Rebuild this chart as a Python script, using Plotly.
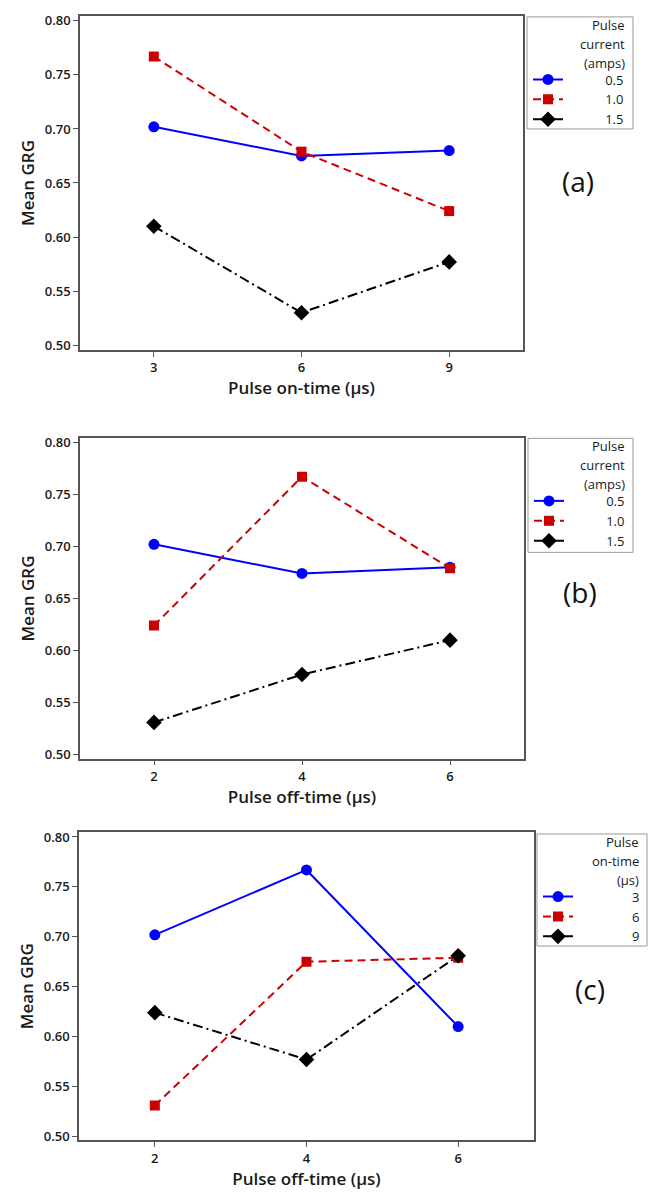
import plotly.graph_objects as go

# ---------------- data ----------------
on_time = [3, 6, 9]
off_time = [2, 4, 6]

current_levels = ["0.5", "1.0", "1.5"]
ontime_levels = ["3", "6", "9"]

# (a) Mean GRG vs pulse on-time, by pulse current
a_05 = [0.702, 0.675, 0.680]
a_10 = [0.767, 0.679, 0.624]
a_15 = [0.610, 0.530, 0.577]

# (b) Mean GRG vs pulse off-time, by pulse current
b_05 = [0.702, 0.674, 0.680]
b_10 = [0.624, 0.767, 0.679]
b_15 = [0.531, 0.577, 0.610]

# (c) Mean GRG vs pulse off-time, by pulse on-time
c_3 = [0.702, 0.767, 0.610]
c_6 = [0.531, 0.675, 0.679]
c_9 = [0.624, 0.577, 0.681]

y_ticks = [0.50, 0.55, 0.60, 0.65, 0.70, 0.75, 0.80]

W, H = 648, 1192
FONT = "Open Sans"
TXT = "#1a1a1a"

styles = [
    dict(color="#0000FF", dash="solid", symbol="circle", size=11),
    dict(color="#CC0000", dash="8px,5px", symbol="square", size=10),
    dict(color="#000000", dash="10px,4px,2px,4px", symbol="diamond", size=12),
]

NB = "\u00a0"

fig = go.Figure()

panels = [
    dict(x=on_time, series=[a_05, a_10, a_15], names=current_levels, ax="", legend="legend"),
    dict(x=off_time, series=[b_05, b_10, b_15], names=current_levels, ax="2", legend="legend2"),
    dict(x=off_time, series=[c_3, c_6, c_9], names=ontime_levels, ax="3", legend="legend3"),
]

for p in panels:
    for vals, name, st in zip(p["series"], p["names"], styles):
        npad = 11 if len(name) == 3 else 16
        fig.add_trace(go.Scatter(
            x=p["x"], y=vals, mode="lines+markers",
            name=NB * npad + name,
            line=dict(color=st["color"], dash=st["dash"], width=2),
            marker=dict(color=st["color"], symbol=st["symbol"], size=st["size"]),
            xaxis="x" + p["ax"], yaxis="y" + p["ax"], legend=p["legend"],
        ))

def py(v):
    return 1 - v / H

def px(v):
    return v / W

axis_common = dict(
    showline=True, mirror=True, linecolor="#555555", linewidth=1.5,
    ticks="outside", ticklen=5, tickwidth=1, tickcolor="#555555",
    showgrid=False, zeroline=False,
    tickfont=dict(family=FONT, size=13, color=TXT, weight=600),
)

def xaxis(dom, rng, title, anchor, tick):
    return dict(axis_common, domain=dom, range=rng, anchor=anchor,
                tickvals=tick, ticktext=[str(t) for t in tick],
                title=dict(text=title, font=dict(family=FONT, size=17, color=TXT, weight=600), standoff=5))

def yaxis(dom, rng, anchor):
    return dict(axis_common, domain=dom, range=rng, anchor=anchor,
                tickvals=y_ticks, tickformat=".2f",
                title=dict(text="Mean GRG", font=dict(family=FONT, size=17, color=TXT, weight=600), standoff=6))

fig.update_layout(
    width=W, height=H,
    margin=dict(l=0, r=0, t=0, b=0),
    paper_bgcolor="white", plot_bgcolor="white",
    showlegend=True,
    xaxis=xaxis([px(80), px(523)], [1.5, 10.5], "Pulse on-time (µs)", "y", on_time),
    yaxis=yaxis([py(348), py(11)], [0.4954, 0.8046], "x"),
    xaxis2=xaxis([px(80), px(524)], [1.0, 7.0], "Pulse off-time (µs)", "y2", off_time),
    yaxis2=yaxis([py(760), py(437)], [0.4962, 0.8038], "x2"),
    xaxis3=xaxis([px(79), px(534)], [1.0, 7.0], "Pulse off-time (µs)", "y3", off_time),
    yaxis3=yaxis([py(1145), py(834)], [0.496, 0.805], "x3"),
)

def legend_cfg(x0, y0):
    return dict(
        x=px(x0), y=py(y0), xanchor="left", yanchor="top",
        borderwidth=0, bgcolor="rgba(0,0,0,0)",
        font=dict(family=FONT, size=13, color=TXT),
        itemwidth=30, tracegroupgap=0,
    )

# legend boxes: (x0, y0, x1, y1, title lines)
boxes = [
    (527, 12, 633, 125, ["Pulse", "current", "(amps)"], "legend"),
    (528, 437, 633, 552, ["Pulse", "current", "(amps)"], "legend2"),
    (537, 836, 647, 949, ["Pulse", "on-time", "(µs)"], "legend3"),
]
for x0, y0, x1, y1, title, lg in boxes:
    fig.add_shape(type="rect", xref="paper", yref="paper",
                  x0=px(x0), x1=px(x1), y0=py(y1), y1=py(y0),
                  line=dict(color="#999999", width=1), fillcolor="rgba(0,0,0,0)")
    for i, line in enumerate(title):
        fig.add_annotation(text=line, xref="paper", yref="paper",
                           x=px(x1 - 6), y=py(y0 + 8 + 19 * i), xanchor="right", yanchor="middle",
                           showarrow=False,
                           font=dict(family=FONT, size=13, color=TXT))
    fig.update_layout({lg: legend_cfg(x0 + 1, y0 + 48)})

for txt, xc, yc in [("(a)", 578, 177), ("(b)", 580, 592), ("(c)", 590, 992)]:
    fig.add_annotation(text=txt, x=px(xc), y=py(yc), xref="paper", yref="paper",
                       xanchor="center", yanchor="middle",
                       showarrow=False, font=dict(family=FONT, size=28, color="#111111"))

fig.write_html("out.html", config={"displayModeBar": False},
               post_script="document.body.style.margin='0';document.body.style.overflow='hidden';")
